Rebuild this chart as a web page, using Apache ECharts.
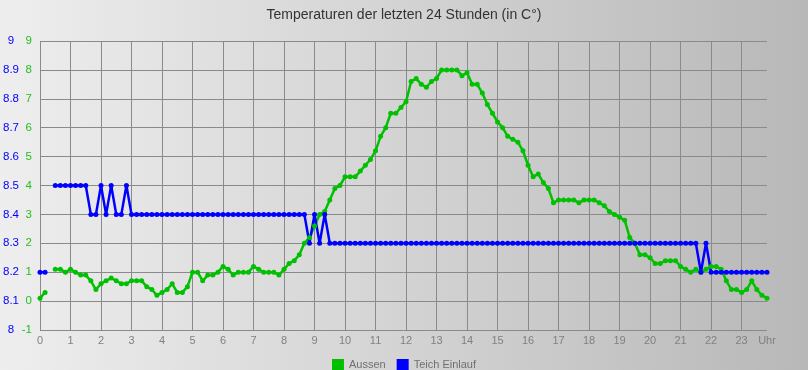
<!DOCTYPE html>
<html>
<head>
<meta charset="utf-8">
<script src="https://cdn.jsdelivr.net/npm/echarts@6/dist/echarts.min.js"></script>
<style>
  html, body { margin: 0; padding: 0; }
  #chart { width: 808px; height: 370px; background: linear-gradient(to right, #eeeeee, #b8b8b8); }
</style>
</head>
<body>
<div id="chart"></div>
<script>
// ---- data (one sample every 10 minutes, 0:00 .. 23:50) ----
const titleText = 'Temperaturen der letzten 24 Stunden (in C°)';
const seriesNames = ['Aussen', 'Teich Einlauf'];
const hourLabels = ['0','1','2','3','4','5','6','7','8','9','10','11','12','13','14','15','16','17','18','19','20','21','22','23'];
const endLabel = 'Uhr';
const samplesPerHour = 6;

// Aussen (scale -1 .. 9)
const aussen = [
  0.1, 0.3, null, 1.1, 1.1, 1.0, 1.1, 1.0, 0.9, 0.9, 0.7, 0.4,
  0.6, 0.7, 0.8, 0.7, 0.6, 0.6, 0.7, 0.7, 0.7, 0.5, 0.4, 0.2,
  0.3, 0.4, 0.6, 0.3, 0.3, 0.5, 1.0, 1.0, 0.7, 0.9, 0.9, 1.0,
  1.2, 1.1, 0.9, 1.0, 1.0, 1.0, 1.2, 1.1, 1.0, 1.0, 1.0, 0.9,
  1.1, 1.3, 1.4, 1.6, 2.0, 2.2, 2.6, 3.0, 3.1, 3.5, 3.9, 4.0,
  4.3, 4.3, 4.3, 4.5, 4.7, 4.9, 5.2, 5.7, 6.0, 6.5, 6.5, 6.7,
  6.9, 7.6, 7.7, 7.5, 7.4, 7.6, 7.7, 8.0, 8.0, 8.0, 8.0, 7.8,
  7.9, 7.5, 7.5, 7.2, 6.8, 6.5, 6.2, 6.0, 5.7, 5.6, 5.5, 5.2,
  4.7, 4.3, 4.4, 4.1, 3.9, 3.4, 3.5, 3.5, 3.5, 3.5, 3.4, 3.5,
  3.5, 3.5, 3.4, 3.3, 3.1, 3.0, 2.9, 2.8, 2.2, 2.0, 1.6, 1.6,
  1.5, 1.3, 1.3, 1.4, 1.4, 1.4, 1.2, 1.1, 1.0, 1.1, 1.0, 1.1,
  1.2, 1.2, 1.1, 0.7, 0.4, 0.4, 0.3, 0.4, 0.7, 0.4, 0.2, 0.1
];

// Teich Einlauf (scale 8 .. 9)
const teichEinlauf = [
  8.2, 8.2, null, 8.5, 8.5, 8.5, 8.5, 8.5, 8.5, 8.5, 8.4, 8.4,
  8.5, 8.4, 8.5, 8.4, 8.4, 8.5, 8.4, 8.4, 8.4, 8.4, 8.4, 8.4,
  8.4, 8.4, 8.4, 8.4, 8.4, 8.4, 8.4, 8.4, 8.4, 8.4, 8.4, 8.4,
  8.4, 8.4, 8.4, 8.4, 8.4, 8.4, 8.4, 8.4, 8.4, 8.4, 8.4, 8.4,
  8.4, 8.4, 8.4, 8.4, 8.4, 8.3, 8.4, 8.3, 8.4, 8.3, 8.3, 8.3,
  8.3, 8.3, 8.3, 8.3, 8.3, 8.3, 8.3, 8.3, 8.3, 8.3, 8.3, 8.3,
  8.3, 8.3, 8.3, 8.3, 8.3, 8.3, 8.3, 8.3, 8.3, 8.3, 8.3, 8.3,
  8.3, 8.3, 8.3, 8.3, 8.3, 8.3, 8.3, 8.3, 8.3, 8.3, 8.3, 8.3,
  8.3, 8.3, 8.3, 8.3, 8.3, 8.3, 8.3, 8.3, 8.3, 8.3, 8.3, 8.3,
  8.3, 8.3, 8.3, 8.3, 8.3, 8.3, 8.3, 8.3, 8.3, 8.3, 8.3, 8.3,
  8.3, 8.3, 8.3, 8.3, 8.3, 8.3, 8.3, 8.3, 8.3, 8.3, 8.2, 8.3,
  8.2, 8.2, 8.2, 8.2, 8.2, 8.2, 8.2, 8.2, 8.2, 8.2, 8.2, 8.2
];

// ---- build ----
const toPairs = arr => arr.map((v, i) => [i / samplesPerHour, v]);
const lastX = (aussen.length - 1) / samplesPerHour;

const GREEN = '#00c000';
const BLUE = '#0000ff';
const GRID = '#8a8a8a';
const FONT = 'Liberation Sans, Arial, sans-serif';

const chart = echarts.init(document.getElementById('chart'), null, { renderer: 'canvas' });
chart.setOption({
  backgroundColor: 'transparent',
  animation: false,
  textStyle: { fontFamily: FONT },
  title: {
    text: titleText,
    left: 'center',
    top: 3,
    textStyle: { fontFamily: FONT, fontSize: 14, fontWeight: 'normal', color: '#333333' }
  },
  legend: {
    top: 354,
    left: 'center',
    icon: 'rect',
    itemWidth: 12,
    itemHeight: 12,
    itemGap: 11,
    textStyle: { fontFamily: FONT, fontSize: 11, color: '#707070' },
    data: [
      { name: seriesNames[0], itemStyle: { color: GREEN } },
      { name: seriesNames[1], itemStyle: { color: BLUE } }
    ]
  },
  grid: { left: 40, right: 41, top: 41, bottom: 40, containLabel: false },
  xAxis: {
    type: 'value',
    min: 0,
    max: lastX,
    interval: 1,
    axisLine: { show: true, lineStyle: { color: GRID, width: 1 } },
    axisTick: { show: false },
    axisLabel: {
      margin: 5,
      fontFamily: FONT,
      fontSize: 11,
      color: '#808080',
      showMaxLabel: true,
      formatter: v => (v > hourLabels.length - 0.5 ? endLabel : hourLabels[Math.round(v)])
    },
    splitLine: { show: true, showMaxLine: false, lineStyle: { color: GRID, width: 1 } }
  },
  yAxis: [
    {
      type: 'value',
      position: 'left',
      min: 8,
      max: 9,
      interval: 0.1,
      axisLine: { show: false },
      axisTick: { show: false },
      axisLabel: {
        margin: 29,
        align: 'center',
        fontFamily: FONT,
        fontSize: 11.5,
        color: BLUE,
        formatter: v => String(Math.round(v * 10) / 10)
      },
      splitLine: { show: false }
    },
    {
      type: 'value',
      position: 'left',
      min: -1,
      max: 9,
      interval: 1,
      axisLine: { show: false },
      axisTick: { show: false },
      axisLabel: {
        margin: 8,
        align: 'right',
        fontFamily: FONT,
        fontSize: 11.5,
        color: '#22c022'
      },
      splitLine: { show: true, lineStyle: { color: GRID, width: 1 } }
    }
  ],
  series: [
    {
      name: seriesNames[0],
      type: 'line',
      yAxisIndex: 1,
      data: toPairs(aussen),
      connectNulls: false,
      symbol: 'circle',
      symbolSize: 5,
      showAllSymbol: true,
      color: GREEN,
      lineStyle: { width: 2.5, color: GREEN },
      itemStyle: { color: GREEN }
    },
    {
      name: seriesNames[1],
      type: 'line',
      yAxisIndex: 0,
      data: toPairs(teichEinlauf),
      connectNulls: false,
      symbol: 'circle',
      symbolSize: 5,
      showAllSymbol: true,
      color: BLUE,
      lineStyle: { width: 2.5, color: BLUE },
      itemStyle: { color: BLUE }
    }
  ]
});
</script>
</body>
</html>
